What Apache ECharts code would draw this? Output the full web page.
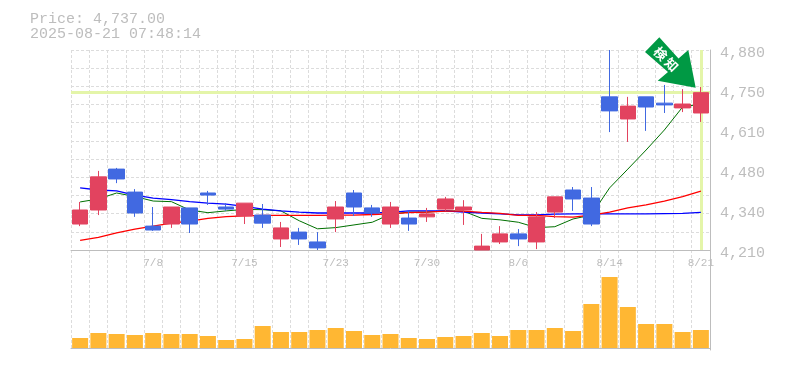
<!DOCTYPE html>
<html><head><meta charset="utf-8">
<style>html,body{margin:0;padding:0;background:#fff}#c{width:785px;height:370px}</style>
<script src="https://cdn.jsdelivr.net/npm/echarts@6/dist/echarts.min.js"></script>
</head><body><div id="c"></div>
<script>
const priceText = 'Price: 4,737.00';
const timeText = '2025-08-21 07:48:14';
const lastPrice = 4737;
const dates = ['7/1','7/2','7/3','7/4','7/8','7/9','7/10','7/11','7/14','7/15','7/16','7/17','7/18','7/22','7/23','7/24','7/25','7/28','7/29','7/30','7/31','8/1','8/4','8/5','8/6','8/7','8/8','8/12','8/13','8/14','8/15','8/18','8/19','8/20','8/21'];
const opens  = [4297,4344,4481,4404,4290,4297,4351,4401,4354,4324,4327,4247,4270,4237,4314,4401,4351,4297,4317,4321,4347,4344,4210,4237,4264,4237,4337,4411,4384,4723,4649,4723,4702,4686,4669];
const closes = [4344,4455,4448,4334,4277,4354,4297,4394,4347,4367,4300,4284,4247,4217,4354,4354,4334,4354,4297,4331,4381,4354,4223,4264,4247,4321,4388,4381,4297,4676,4692,4689,4696,4699,4737];
const highs  = [4371,4475,4485,4414,4354,4354,4351,4408,4367,4367,4364,4304,4284,4270,4374,4411,4361,4371,4337,4351,4388,4377,4264,4290,4280,4337,4388,4421,4421,4880,4723,4723,4763,4749,4756];
const lows   = [4290,4327,4434,4321,4274,4284,4267,4361,4341,4297,4284,4220,4227,4210,4270,4324,4321,4284,4274,4304,4341,4294,4210,4230,4223,4213,4317,4341,4290,4605,4572,4609,4669,4672,4639];
const maBlue  = [4418,4411,4408,4394,4384,4379,4372,4367,4364,4356,4347,4341,4337,4334,4334,4334,4334,4336,4341,4341,4341,4337,4334,4331,4328,4328,4330,4331,4331,4331,4331,4331,4332,4333,4336];
const maGreen = [4371,4381,4401,4389,4374,4372,4344,4335,4341,4346,4345,4341,4308,4281,4285,4294,4303,4330,4337,4337,4341,4340,4316,4311,4303,4285,4288,4314,4327,4418,4481,4545,4612,4689,4699];
const maRed   = [4242,4252,4267,4280,4290,4300,4307,4316,4322,4324,4326,4326,4326,4326,4327,4327,4329,4331,4335,4337,4340,4340,4336,4333,4326,4326,4322,4320,4327,4337,4351,4361,4374,4389,4407];
const volumes = [10,15,14,13,15,14,14,12,8,9,22,16,16,18,20,17,13,14,10,9,11,12,15,12,18,18,20,17,44,71,41,24,24,16,18];
const priceTicks = [4210,4344,4478,4612,4746,4880];
const arrowLabel = '検\u2009知';

const grey='#bdbdbd', dash='#dcdcdc', mono='"Liberation Mono","DejaVu Sans Mono",monospace';
const chart = echarts.init(document.getElementById('c'),null,{renderer:'canvas'});
const dashLine = {show:true,lineStyle:{color:dash,type:[3,2],width:1}};
const maSeries=(name,data,color,width)=>({name,type:'line',data,xAxisIndex:0,yAxisIndex:0,symbol:'none',z:2,silent:true,lineStyle:{color,width},clip:true});
chart.setOption({
  animation:false,
  backgroundColor:'#fff',
  title:[
    {text:priceText,left:30,top:12,padding:0,textStyle:{fontFamily:mono,fontSize:15,fontWeight:'normal',color:grey}},
    {text:timeText,left:30,top:27,padding:0,textStyle:{fontFamily:mono,fontSize:15,fontWeight:'normal',color:grey}}
  ],
  grid:[
    {left:71,top:50,width:639,height:200},
    {left:71,top:250,width:639,height:100},
    {left:71,top:53,width:639,height:200}
  ],
  xAxis:[
    {type:'category',gridIndex:0,data:dates,boundaryGap:true,
     axisLine:{show:true,lineStyle:{color:grey,width:1}},axisTick:{show:false},
     splitLine:{show:true,interval:0,lineStyle:dashLine.lineStyle},
     axisLabel:{show:true,interval:(i)=>(i+1)%5===0,color:grey,fontFamily:mono,fontSize:11,margin:8}},
    {type:'category',gridIndex:1,data:dates,boundaryGap:true,
     axisLine:{show:true,lineStyle:{color:grey,width:1}},axisTick:{show:false},
     splitLine:{show:true,interval:0,lineStyle:dashLine.lineStyle},axisLabel:{show:false}},
    {type:'category',gridIndex:2,data:dates,show:false}
  ],
  yAxis:[
    {type:'value',gridIndex:0,position:'right',min:4210,max:4880,
     axisLine:{show:true,lineStyle:{color:grey,width:1}},axisTick:{show:false},splitLine:{show:false},axisLabel:{show:false}},
    {type:'value',gridIndex:0,position:'left',min:0,max:11,interval:1,
     axisLine:{show:false},axisTick:{show:false},axisLabel:{show:false},splitLine:dashLine},
    {type:'value',gridIndex:1,position:'right',min:-2,max:98,
     axisLine:{show:true,lineStyle:{color:grey,width:1}},axisTick:{show:false},axisLabel:{show:false},splitLine:{show:false}},
    {type:'value',gridIndex:2,position:'right',min:4210,max:4880,
     axisLine:{show:false},axisTick:{show:false},splitLine:{show:false},
     axisLabel:{show:true,customValues:priceTicks,margin:10,color:grey,fontFamily:mono,fontSize:15,
       formatter:v=>(Math.round(v/10)*10).toLocaleString('en-US')}}
  ],
  series:[
    {type:'line',data:[],xAxisIndex:0,yAxisIndex:0,z:1,silent:true,
     markLine:{z:1,silent:true,symbol:'none',label:{show:false},animation:false,
       lineStyle:{color:'#e4f5a9',width:3,type:'solid'},
       data:[{yAxis:lastPrice},{xAxis:dates[dates.length-1]}]}},
    maSeries('MA short',maGreen,'#007000',1),
    maSeries('MA mid',maBlue,'#0000ff',1.3),
    maSeries('MA long',maRed,'#ff0000',1.3),
    {type:'candlestick',xAxisIndex:0,yAxisIndex:0,z:3,barWidth:16,clip:true,silent:true,
     data:dates.map((d,i)=>[opens[i],closes[i],lows[i],highs[i]]),
     itemStyle:{color:'#e2435f',color0:'#4169e1',borderColor:'#e2435f',borderColor0:'#4169e1',borderWidth:1}},
    {type:'bar',xAxisIndex:1,yAxisIndex:2,data:volumes,barWidth:16,silent:true,itemStyle:{color:'#ffb733'}},
    {type:'line',data:[],xAxisIndex:2,yAxisIndex:3,silent:true}
  ],
  graphic:[
    {type:'polygon',z:100,silent:true,shape:{points:[[659.3,37.3],[645,52],[668,72],[657.7,80.7],[695.7,87.7],[688.3,50],[678.5,58.5]]},style:{fill:'#009944'}},
    {type:'text',z:101,silent:true,x:666,y:59,rotation:-Math.PI/4,style:{text:arrowLabel,fill:'#fff',font:'bold 13px "Noto Sans CJK JP"',align:'center',verticalAlign:'middle'}}
  ]
});
</script></body></html>
